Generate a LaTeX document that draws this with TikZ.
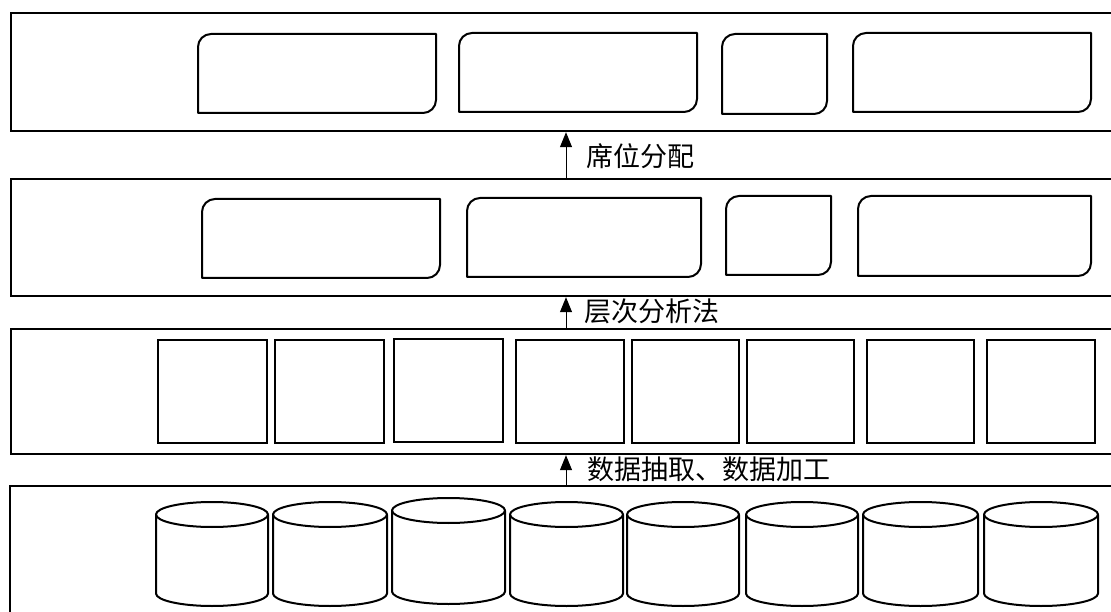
\documentclass[tikz,border=0pt]{standalone}
\usepackage{fontspec}
\newfontfamily\cjk{Noto Sans CJK SC}
\usetikzlibrary{arrows.meta}
\tikzset{
  band/.style={draw, line width=2.2pt, rectangle, inner sep=0pt, anchor=north west},
  boxline/.style={draw, line width=2pt, line join=round},
  sqbox/.style={draw, line width=2.2pt, rectangle, inner sep=0pt, anchor=north west, minimum height=103pt},
  arr/.style={line width=1pt, -{Triangle[length=15pt,width=12pt]}},
  lbl/.style={font=\cjk\fontsize{27pt}{27pt}\selectfont, inner sep=0pt, anchor=west}
}
% rounded box: top-left and bottom-right corners rounded
\newcommand\rbox[5]{% name x1 y1 x2 y2
  \coordinate (#1) at ({(#2+#4)/2},{(#3+#5)/2});
  \draw[boxline] (#2,#5) -- (#2,#3+13) .. controls (#2,#3+5.8) and (#2+5.8,#3) .. (#2+13,#3)
     -- (#4,#3) -- (#4,#5-13) .. controls (#4,#5-5.8) and (#4-5.8,#5) .. (#4-13,#5) -- cycle;}
% database cylinder
\newcommand\dbcyl[5]{% name x1 x2 ytop ybot
  \pgfmathsetmacro\cylcx{(#2+#3)/2}
  \pgfmathsetmacro\cylrx{(#3-#2)/2}
  \pgfmathsetmacro\cylyt{#4+12.5}
  \pgfmathsetmacro\cylyb{#5-12.5}
  \pgfmathsetmacro\cylkx{0.5523*\cylrx}
  \coordinate (#1) at (\cylcx,{(#4+#5)/2});
  \draw[boxline] (\cylcx,\cylyt) ellipse [x radius=\cylrx, y radius=12.5];
  \draw[boxline] (#2,\cylyt) -- (#2,\cylyb) .. controls (#2,\cylyb+6.9) and (\cylcx-\cylkx,#5) .. (\cylcx,#5)
     .. controls (\cylcx+\cylkx,#5) and (#3,\cylyb+6.9) .. (#3,\cylyb) -- (#3,\cylyt);}
\begin{document}
\begin{tikzpicture}[x=1pt,y=-1pt]
\useasboundingbox[fill=white] (0,0) rectangle (1111,612);

% layers
\node[band, minimum width=1130pt, minimum height=118pt] (L1) at (10,12) {};
\node[band, minimum width=1130pt, minimum height=117pt] (L2) at (10,178) {};
\node[band, minimum width=1130pt, minimum height=125pt] (L3) at (10,328) {};
\node[band, minimum width=1130pt, minimum height=200pt] (L4) at (9,485) {};

% layer 1 boxes
\rbox{a1}{198}{34}{436}{113}
\rbox{a2}{459}{33}{697}{112}
\rbox{a3}{722}{34}{827}{114}
\rbox{a4}{853}{33}{1091}{112}

% layer 2 boxes
\rbox{b1}{202}{199}{440}{278}
\rbox{b2}{467}{198}{701}{277}
\rbox{b3}{726}{196}{831}{275}
\rbox{b4}{858}{196}{1091}{276}

% layer 3 squares
\node[sqbox, minimum width=109pt] (s1) at (157,339) {};
\node[sqbox, minimum width=109pt] (s2) at (274,339) {};
\node[sqbox, minimum width=109pt] (s3) at (393,338) {};
\node[sqbox, minimum width=108pt] (s4) at (515,339) {};
\node[sqbox, minimum width=107pt] (s5) at (631,339) {};
\node[sqbox, minimum width=107pt] (s6) at (746,339) {};
\node[sqbox, minimum width=107pt] (s7) at (866,339) {};
\node[sqbox, minimum width=108pt] (s8) at (986,339) {};

% layer 4 cylinders
\dbcyl{c1}{156}{268}{502}{606}
\dbcyl{c2}{273}{387}{502}{606}
\dbcyl{c3}{392}{505}{498}{604}
\dbcyl{c4}{510}{623}{502}{606}
\dbcyl{c5}{627}{739}{502}{606}
\dbcyl{c6}{746}{858}{502}{606}
\dbcyl{c7}{863}{978}{502}{606}
\dbcyl{c8}{984}{1098}{502}{606}

% arrows and labels
\coordinate (ax) at (566,0);
\draw[arr] (ax |- L2.north) -- (ax |- L1.south);
\draw[arr] (ax |- L3.north) -- (ax |- L2.south);
\draw[arr] (ax |- L4.north) -- (ax |- L3.south);
\node[lbl] (t1) at (586,156) {席位分配};
\node[lbl] (t2) at (584,311) {层次分析法};
\node[lbl] (t3) at (587,469) {数据抽取、数据加工};
\end{tikzpicture}
\end{document}
